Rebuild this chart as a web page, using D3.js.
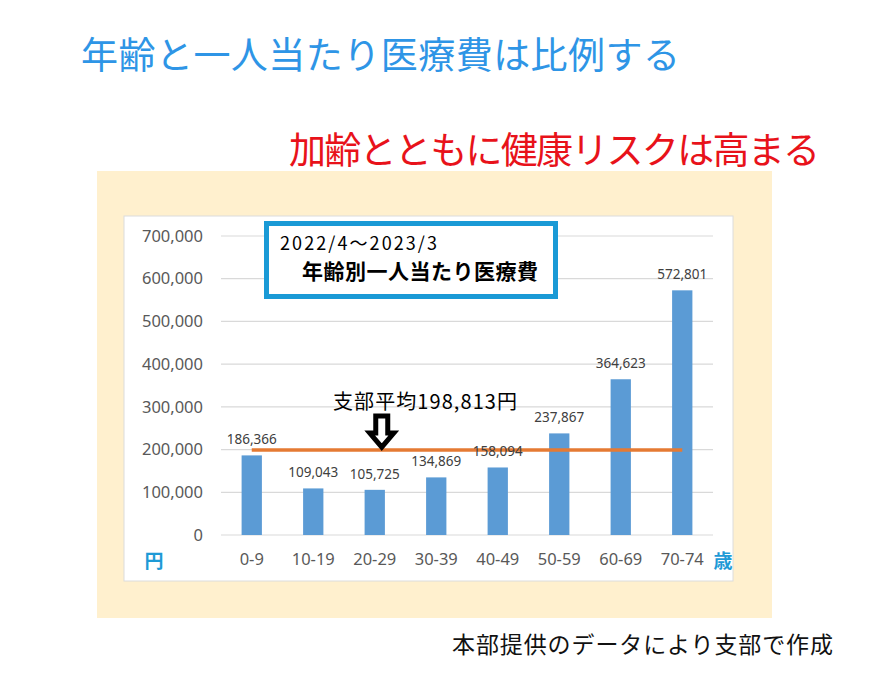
<!DOCTYPE html>
<html>
<head>
<meta charset="utf-8">
<script src="https://cdn.jsdelivr.net/npm/d3@7"></script>
<style>
  body { margin: 0; background: #fff; }
  svg { display: block; }
</style>
</head>
<body>
<script>
// chart data
var ageGroups = ["0-9", "10-19", "20-29", "30-39", "40-49", "50-59", "60-69", "70-74"];
var costPerPerson = [186366, 109043, 105725, 134869, 158094, 237867, 364623, 572801];
var branchAverage = 198813;
var yTicks = [0, 100000, 200000, 300000, 400000, 500000, 600000, 700000];

var width = 886,
  height = 684;

var jp = "'Noto Sans CJK JP', 'Noto Sans', sans-serif";

var svg = d3.select("body")
  .append("svg")
  .attr("width", width)
  .attr("height", height);

svg.append("rect")
  .attr("width", width)
  .attr("height", height)
  .attr("fill", "#fff");

// headings
svg.append("text")
  .attr("x", 81)
  .attr("y", 69)
  .attr("font-family", jp)
  .attr("font-size", 37)
  .attr("textLength", 599)
  .attr("fill", "#2E95E6")
  .text("年齢と一人当たり医療費は比例する");

svg.append("text")
  .attr("x", 289)
  .attr("y", 164)
  .attr("font-family", jp)
  .attr("font-size", 37)
  .attr("textLength", 531)
  .attr("fill", "#E8121A")
  .text("加齢とともに健康リスクは高まる");

// beige panel and white chart area
svg.append("rect")
  .attr("x", 97).attr("y", 171)
  .attr("width", 675).attr("height", 447)
  .attr("fill", "#FFF0CE");

svg.append("rect")
  .attr("x", 124).attr("y", 216)
  .attr("width", 609).attr("height", 365)
  .attr("fill", "#fff")
  .attr("stroke", "#dcdcdc");

// scales
var x = d3.scaleBand()
  .domain(ageGroups)
  .range([221, 713])
  .paddingInner(0.67)
  .paddingOuter(0.335);

var y = d3.scaleLinear()
  .domain([0, 700000])
  .range([535, 236]);

// gridlines
svg.selectAll(".grid")
  .data(yTicks)
  .enter()
  .append("line")
  .attr("class", "grid")
  .attr("x1", 221)
  .attr("x2", 713)
  .attr("y1", function(d) { return y(d); })
  .attr("y2", function(d) { return y(d); })
  .attr("stroke", "#d9d9d9")
  .attr("stroke-width", 1.2);

// y axis labels
var yAxis = svg.append("g")
  .attr("transform", "translate(203,0)")
  .call(d3.axisLeft(y).tickValues(yTicks).tickSize(0).tickPadding(0).tickFormat(d3.format(",")));
yAxis.select(".domain").remove();
yAxis.selectAll("text")
  .attr("font-family", "'Noto Sans', sans-serif")
  .attr("font-size", 16.5)
  .attr("fill", "#595959");

// x axis labels
var xAxis = svg.append("g")
  .attr("transform", "translate(0,553)")
  .call(d3.axisBottom(x).tickSize(0).tickPadding(0));
xAxis.select(".domain").remove();
xAxis.selectAll("text")
  .attr("font-family", "'Noto Sans', sans-serif")
  .attr("font-size", 16.5)
  .attr("fill", "#595959");

// unit labels
svg.append("text")
  .attr("x", 154).attr("y", 568)
  .attr("text-anchor", "middle")
  .attr("font-family", jp)
  .attr("font-weight", "bold")
  .attr("font-size", 19)
  .attr("fill", "#1E9AD6")
  .text("円");

svg.append("text")
  .attr("x", 723).attr("y", 568)
  .attr("text-anchor", "middle")
  .attr("font-family", jp)
  .attr("font-weight", "bold")
  .attr("font-size", 19)
  .attr("fill", "#1E9AD6")
  .text("歳");

// bars
var data = ageGroups.map(function(g, i) {
  return { group: g, value: costPerPerson[i] };
});

svg.selectAll(".bar")
  .data(data)
  .enter()
  .append("rect")
  .attr("class", "bar")
  .attr("x", function(d) { return x(d.group); })
  .attr("y", function(d) { return y(d.value); })
  .attr("width", x.bandwidth())
  .attr("height", function(d) { return y(0) - y(d.value); })
  .attr("fill", "#5B9BD5");

// branch average line
var first = ageGroups[0],
  last = ageGroups[ageGroups.length - 1];
svg.append("line")
  .attr("x1", x(first) + x.bandwidth() / 2)
  .attr("x2", x(last) + x.bandwidth() / 2)
  .attr("y1", y(branchAverage))
  .attr("y2", y(branchAverage))
  .attr("stroke", "#E57A33")
  .attr("stroke-width", 3.5);

// value labels
svg.selectAll(".val")
  .data(data)
  .enter()
  .append("text")
  .attr("class", "val")
  .attr("x", function(d) { return x(d.group) + x.bandwidth() / 2; })
  .attr("y", function(d) { return y(d.value) - 11; })
  .attr("text-anchor", "middle")
  .attr("font-family", "'Noto Sans', sans-serif")
  .attr("font-size", 13.5)
  .attr("fill", "#404040")
  .text(function(d) { return d3.format(",")(d.value); });

// period box
svg.append("rect")
  .attr("x", 266.5).attr("y", 223.5)
  .attr("width", 289).attr("height", 73)
  .attr("fill", "#fff")
  .attr("stroke", "#1A9AD6")
  .attr("stroke-width", 5);

svg.append("text")
  .attr("x", 280).attr("y", 250)
  .attr("font-family", jp)
  .attr("font-size", 18)
  .attr("textLength", 157)
  .attr("fill", "#000")
  .text("2022/4～2023/3");

svg.append("text")
  .attr("x", 302).attr("y", 279)
  .attr("font-family", jp)
  .attr("font-weight", "bold")
  .attr("font-size", 21)
  .attr("textLength", 236)
  .attr("fill", "#000")
  .text("年齢別一人当たり医療費");

// average annotation
svg.append("text")
  .attr("x", 333).attr("y", 409)
  .attr("font-family", jp)
  .attr("font-size", 20)
  .attr("textLength", 184)
  .attr("fill", "#000")
  .text("支部平均" + d3.format(",")(branchAverage) + "円");

var ax = x(ageGroups[2]) + x.bandwidth() / 2 + 7,
  tipY = y(branchAverage) - 1;
var arrow = d3.path();
arrow.moveTo(ax - 6, 416);
arrow.lineTo(ax + 6, 416);
arrow.lineTo(ax + 6, 433);
arrow.lineTo(ax + 12, 433);
arrow.lineTo(ax, tipY - 2);
arrow.lineTo(ax - 12, 433);
arrow.lineTo(ax - 6, 433);
arrow.closePath();
svg.append("path")
  .attr("d", arrow.toString())
  .attr("fill", "#fff")
  .attr("stroke", "#000")
  .attr("stroke-width", 5)
  .attr("stroke-linejoin", "miter");

// source note
svg.append("text")
  .attr("x", 452).attr("y", 653)
  .attr("font-family", jp)
  .attr("font-size", 23)
  .attr("textLength", 381)
  .attr("fill", "#111")
  .text("本部提供のデータにより支部で作成");
</script>
</body>
</html>
